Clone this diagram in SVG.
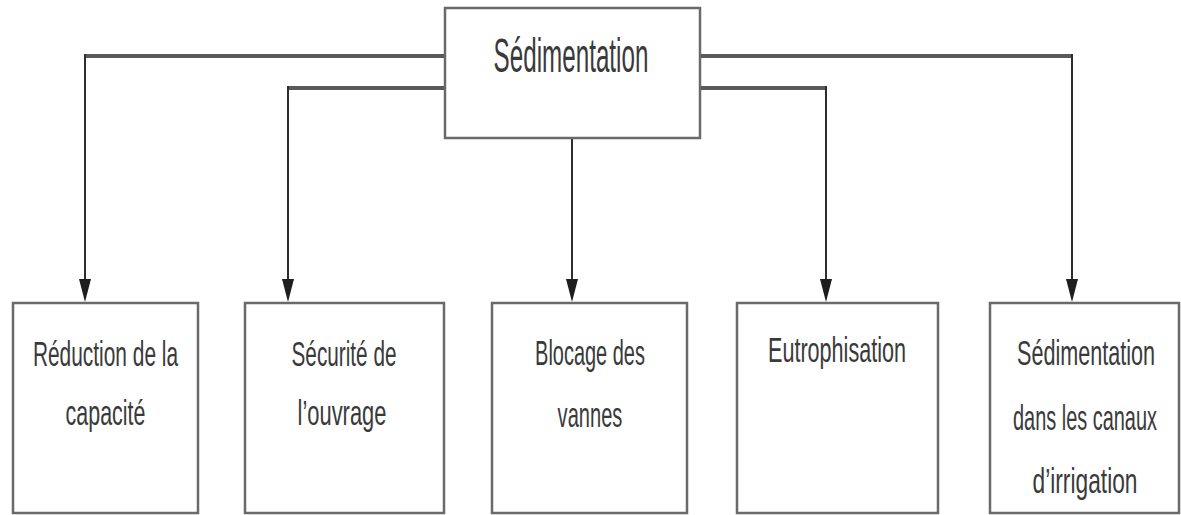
<svg xmlns="http://www.w3.org/2000/svg" width="1181" height="515" viewBox="0 0 1181 515">
  <defs>
    <style>
      .box { fill: #ffffff; stroke: #6a6a6a; stroke-width: 2.5; }
      .lbl { font-family: "Liberation Sans", "DejaVu Sans", sans-serif; fill: #3a3a3a; text-anchor: middle; }
      .top { font-size: 48px; }
      .bot { font-size: 36px; }
      .h { stroke: #5a5a5a; stroke-width: 4; fill: none; }
      .v { stroke: #2e2e2e; stroke-width: 2; fill: none; }
      .head { fill: #1e1e1e; }
    </style>
  </defs>
  <rect width="1181" height="515" fill="#ffffff"/>

  <g id="connectors">
    <line class="h" x1="445" y1="56" x2="84" y2="56"/>
    <line class="v" x1="85" y1="54" x2="85" y2="290"/>
    <line class="h" x1="445" y1="88" x2="287" y2="88"/>
    <line class="v" x1="288" y1="86" x2="288" y2="290"/>
    <line class="v" x1="572" y1="138" x2="572" y2="290"/>
    <line class="h" x1="700" y1="88" x2="827" y2="88"/>
    <line class="v" x1="826" y1="86" x2="826" y2="290"/>
    <line class="h" x1="700" y1="56" x2="1073" y2="56"/>
    <line class="v" x1="1072" y1="54" x2="1072" y2="290"/>
    <path class="head" d="M79,279 L91,279 L85,302 Z"/>
    <path class="head" d="M282,279 L294,279 L288,302 Z"/>
    <path class="head" d="M566,279 L578,279 L572,302 Z"/>
    <path class="head" d="M820,279 L832,279 L826,302 Z"/>
    <path class="head" d="M1066,279 L1078,279 L1072,302 Z"/>
  </g>

  <g id="sedimentation">
    <rect class="box" x="445" y="8" width="255" height="130"/>
    <text class="lbl top" transform="translate(571,72) scale(0.6,1)" x="0" y="0" textLength="258" lengthAdjust="spacingAndGlyphs">Sédimentation</text>
  </g>

  <g id="reduction">
    <rect class="box" x="13" y="303" width="185" height="210"/>
    <text class="lbl bot" transform="translate(105.5,366) scale(0.6,1)" x="0" y="0" textLength="242" lengthAdjust="spacingAndGlyphs">Réduction de la</text>
    <text class="lbl bot" transform="translate(105.5,425) scale(0.6,1)" x="0" y="0" textLength="133" lengthAdjust="spacingAndGlyphs">capacité</text>
  </g>

  <g id="securite">
    <rect class="box" x="245" y="303" width="199" height="210"/>
    <text class="lbl bot" transform="translate(344,366) scale(0.6,1)" x="0" y="0" textLength="175" lengthAdjust="spacingAndGlyphs">Sécurité de</text>
    <text class="lbl bot" transform="translate(342,425) scale(0.6,1)" x="0" y="0" textLength="148" lengthAdjust="spacingAndGlyphs">l’ouvrage</text>
  </g>

  <g id="blocage">
    <rect class="box" x="492" y="303" width="195" height="210"/>
    <text class="lbl bot" transform="translate(590,365) scale(0.6,1)" x="0" y="0" textLength="183" lengthAdjust="spacingAndGlyphs">Blocage des</text>
    <text class="lbl bot" transform="translate(590,427) scale(0.6,1)" x="0" y="0" textLength="108" lengthAdjust="spacingAndGlyphs">vannes</text>
  </g>

  <g id="eutrophisation">
    <rect class="box" x="737" y="303" width="201" height="210"/>
    <text class="lbl bot" transform="translate(837,362) scale(0.6,1)" x="0" y="0" textLength="230" lengthAdjust="spacingAndGlyphs">Eutrophisation</text>
  </g>

  <g id="canaux">
    <rect class="box" x="990" y="303" width="189" height="210"/>
    <text class="lbl bot" transform="translate(1086,365) scale(0.6,1)" x="0" y="0" textLength="230" lengthAdjust="spacingAndGlyphs">Sédimentation</text>
    <text class="lbl bot" transform="translate(1085,430) scale(0.6,1)" x="0" y="0" textLength="240" lengthAdjust="spacingAndGlyphs">dans les canaux</text>
    <text class="lbl bot" transform="translate(1085,493) scale(0.6,1)" x="0" y="0" textLength="175" lengthAdjust="spacingAndGlyphs">d’irrigation</text>
  </g>
</svg>
